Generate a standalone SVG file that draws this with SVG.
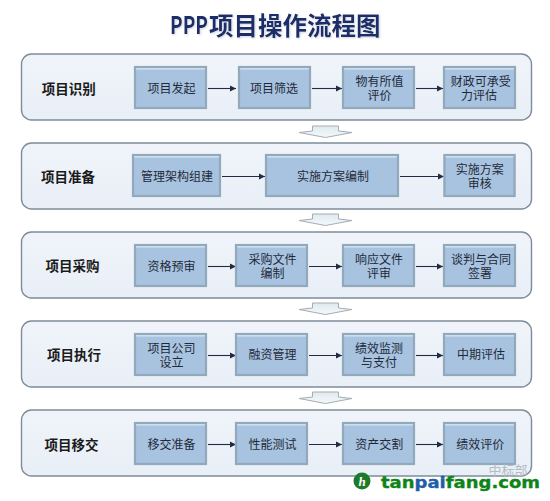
<svg xmlns="http://www.w3.org/2000/svg" width="550" height="501" viewBox="0 0 550 501">
<style>
text{font-family:"Noto Sans CJK SC","Liberation Sans",sans-serif;text-anchor:middle}
.title{font-weight:700;fill:#1c2f6b;font-size:24.5px;text-anchor:start;filter:url(#ts)}
.panel{fill:url(#pg);stroke:#7f8c99;stroke-width:1.4}
.head{font-size:13.5px;font-weight:700;fill:#1a1a1a}
.bf{fill:#a8c3e0}
.be{stroke:#93a8bb;stroke-width:2.2;fill:none}
.bt{fill:#d2e6f2}
.lbl{font-size:12px;fill:#1f2a38}
.cn{stroke:#1f2c44;stroke-width:1.1;fill:none;marker-end:url(#ah)}
.dn{fill:url(#dg);stroke:#a3adb4;stroke-width:1}
.wm{font-family:"DejaVu Sans",sans-serif;font-weight:700;font-size:16px;text-anchor:start;stroke-width:.35}
</style>
<defs>
<linearGradient id="pg" x1="0" y1="0" x2="0" y2="1"><stop offset="0" stop-color="#f0f4fa"/><stop offset="1" stop-color="#e9eff7"/></linearGradient>
<linearGradient id="dg" x1="0" y1="0" x2="0" y2="1"><stop offset="0" stop-color="#dfe9ee"/><stop offset="1" stop-color="#f3fafc"/></linearGradient>
<filter id="ts" x="-5%" y="-20%" width="110%" height="140%"><feGaussianBlur in="SourceAlpha" stdDeviation="0.8"/><feOffset dx="1" dy="1"/><feColorMatrix values="0 0 0 0 0.5 0 0 0 0 0.55 0 0 0 0 0.65 0 0 0 0.7 0"/><feMerge><feMergeNode/><feMergeNode in="SourceGraphic"/></feMerge></filter>
<marker id="ah" markerUnits="userSpaceOnUse" markerWidth="7" markerHeight="7" refX="6" refY="3.5" orient="auto"><path d="M0 0.5L6 3.5L0 6.5z" fill="#1f2c44"/></marker>
<path id="d" d="M-26.500 0.500L-13 -1V-6H13V-1L26.500 0.500L0 5.500z"/>
</defs>
<rect width="550" height="501" fill="#fff"/>
<g id="title"><text class="title" x="170" y="34" textLength="38" lengthAdjust="spacingAndGlyphs">PPP</text><text class="title" x="209" y="35">项目操作流程图</text></g>
<g id="panels">
<g id="row1"><rect class="panel" x="21.500" y="54" width="510" height="66" rx="10"/><text class="head" x="68.800" y="93.500">项目识别</text></g>
<g id="row2"><rect class="panel" x="21.500" y="143" width="510" height="66" rx="10"/><text class="head" x="68" y="182">项目准备</text></g>
<g id="row3"><rect class="panel" x="21.500" y="232" width="510" height="66" rx="10"/><text class="head" x="72.500" y="271">项目采购</text></g>
<g id="row4"><rect class="panel" x="21.500" y="321" width="510" height="66" rx="10"/><text class="head" x="74" y="360">项目执行</text></g>
<g id="row5"><rect class="panel" x="21.500" y="410" width="510" height="66" rx="10"/><text class="head" x="71.500" y="449.500">项目移交</text></g>
</g>
<g id="down-arrows" class="dn">
<use href="#d" x="325.500" y="132"/><use href="#d" x="325.500" y="220"/><use href="#d" x="325.500" y="309"/><use href="#d" x="325.500" y="398"/>
</g>
<g id="connectors">
<path class="cn" d="M208 88.500H236"/><path class="cn" d="M312 88.500H342"/><path class="cn" d="M416 88.500H443"/>
<path class="cn" d="M222 176.500H265"/><path class="cn" d="M400 176.500H444"/>
<path class="cn" d="M208 266.500H236"/><path class="cn" d="M309 266.500H342"/><path class="cn" d="M416 266.500H443"/>
<path class="cn" d="M208 355.500H236"/><path class="cn" d="M309 355.500H342"/><path class="cn" d="M416 355.500H443"/>
<path class="cn" d="M208 444.500H236"/><path class="cn" d="M309 444.500H342"/><path class="cn" d="M416 444.500H443"/>
</g>
<g id="n11"><rect class="bf" x="134" y="66" width="73" height="43"/><rect class="bt" x="135" y="67" width="71" height="2.500"/><rect class="be" x="135" y="67" width="71" height="41"/><text class="lbl" x="171.500" y="93">项目发起</text></g>
<g id="n12"><rect class="bf" x="238" y="66" width="73" height="43"/><rect class="bt" x="239" y="67" width="71" height="2.500"/><rect class="be" x="239" y="67" width="71" height="41"/><text class="lbl" x="274" y="93">项目筛选</text></g>
<g id="n13"><rect class="bf" x="342" y="66" width="73" height="43"/><rect class="bt" x="343" y="67" width="71" height="2.500"/><rect class="be" x="343" y="67" width="71" height="41"/><text class="lbl" x="379.500" y="85.500">物有所值</text><text class="lbl" x="379.500" y="99.500">评价</text></g>
<g id="n14"><rect class="bf" x="443" y="66" width="73" height="43"/><rect class="bt" x="444" y="67" width="71" height="2.500"/><rect class="be" x="444" y="67" width="71" height="41"/><text class="lbl" x="480.700" y="85.500">财政可承受</text><text class="lbl" x="479" y="99.500">力评估</text></g>
<g id="n21"><rect class="bf" x="132" y="154" width="89" height="43"/><rect class="bt" x="133" y="155" width="87" height="2.500"/><rect class="be" x="133" y="155" width="87" height="41"/><text class="lbl" x="177" y="180.500">管理架构组建</text></g>
<g id="n22"><rect class="bf" x="265" y="154" width="134" height="43"/><rect class="bt" x="266" y="155" width="132" height="2.500"/><rect class="be" x="266" y="155" width="132" height="41"/><text class="lbl" x="333" y="180.500">实施方案编制</text></g>
<g id="n23"><rect class="bf" x="443.500" y="154" width="72" height="43"/><rect class="bt" x="444.500" y="155" width="70" height="2.500"/><rect class="be" x="444.500" y="155" width="70" height="41"/><text class="lbl" x="479.700" y="173.500">实施方案</text><text class="lbl" x="479.700" y="187.500">审核</text></g>
<g id="n31"><rect class="bf" x="134" y="244" width="73" height="43"/><rect class="bt" x="135" y="245" width="71" height="2.500"/><rect class="be" x="135" y="245" width="71" height="41"/><text class="lbl" x="171.500" y="270.500">资格预审</text></g>
<g id="n32"><rect class="bf" x="235" y="244" width="73" height="43"/><rect class="bt" x="236" y="245" width="71" height="2.500"/><rect class="be" x="236" y="245" width="71" height="41"/><text class="lbl" x="272.500" y="264">采购文件</text><text class="lbl" x="272.500" y="277.500">编制</text></g>
<g id="n33"><rect class="bf" x="342" y="244" width="73" height="43"/><rect class="bt" x="343" y="245" width="71" height="2.500"/><rect class="be" x="343" y="245" width="71" height="41"/><text class="lbl" x="379" y="264">响应文件</text><text class="lbl" x="379" y="277.500">评审</text></g>
<g id="n34"><rect class="bf" x="443" y="244" width="73" height="43"/><rect class="bt" x="444" y="245" width="71" height="2.500"/><rect class="be" x="444" y="245" width="71" height="41"/><text class="lbl" x="481" y="264">谈判与合同</text><text class="lbl" x="480" y="277.500">签署</text></g>
<g id="n41"><rect class="bf" x="134" y="333" width="73" height="43"/><rect class="bt" x="135" y="334" width="71" height="2.500"/><rect class="be" x="135" y="334" width="71" height="41"/><text class="lbl" x="171.500" y="352.500">项目公司</text><text class="lbl" x="171.500" y="367">设立</text></g>
<g id="n42"><rect class="bf" x="235" y="333" width="73" height="43"/><rect class="bt" x="236" y="334" width="71" height="2.500"/><rect class="be" x="236" y="334" width="71" height="41"/><text class="lbl" x="272.500" y="359">融资管理</text></g>
<g id="n43"><rect class="bf" x="342" y="333" width="73" height="43"/><rect class="bt" x="343" y="334" width="71" height="2.500"/><rect class="be" x="343" y="334" width="71" height="41"/><text class="lbl" x="379" y="352.500">绩效监测</text><text class="lbl" x="379" y="367">与支付</text></g>
<g id="n44"><rect class="bf" x="443" y="333" width="73" height="43"/><rect class="bt" x="444" y="334" width="71" height="2.500"/><rect class="be" x="444" y="334" width="71" height="41"/><text class="lbl" x="481" y="359">中期评估</text></g>
<g id="n51"><rect class="bf" x="134" y="422" width="73" height="43"/><rect class="bt" x="135" y="423" width="71" height="2.500"/><rect class="be" x="135" y="423" width="71" height="41"/><text class="lbl" x="171.500" y="448.500">移交准备</text></g>
<g id="n52"><rect class="bf" x="235" y="422" width="73" height="43"/><rect class="bt" x="236" y="423" width="71" height="2.500"/><rect class="be" x="236" y="423" width="71" height="41"/><text class="lbl" x="272.500" y="448.500">性能测试</text></g>
<g id="n53"><rect class="bf" x="342" y="422" width="73" height="43"/><rect class="bt" x="343" y="423" width="71" height="2.500"/><rect class="be" x="343" y="423" width="71" height="41"/><text class="lbl" x="379.300" y="448.500">资产交割</text></g>
<g id="n54"><rect class="bf" x="443" y="422" width="73" height="43"/><rect class="bt" x="444" y="423" width="71" height="2.500"/><rect class="be" x="444" y="423" width="71" height="41"/><text class="lbl" x="480.300" y="448.500">绩效评价</text></g>
<g id="watermark">
<text x="508" y="475" style="font-size:13px;fill:#b4bcc4">中标部</text>
<circle cx="362" cy="481" r="8.500" fill="#1d7a2a"/>
<text x="362" y="486" style="font-family:'Liberation Serif',serif;font-style:italic;font-weight:700;font-size:13px;fill:#fff">h</text>
<text class="wm" x="381" y="488" textLength="159" lengthAdjust="spacingAndGlyphs"><tspan fill="#0e8418" stroke="#0e8418">tan</tspan><tspan fill="#1f5ea8" stroke="#1f5ea8">pai</tspan><tspan fill="#0e8418" stroke="#0e8418">fang.com</tspan></text>
</g>
</svg>
